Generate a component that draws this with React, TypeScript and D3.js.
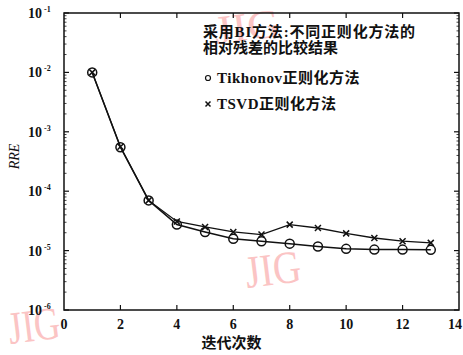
import React, { useEffect, useRef } from "react";
import * as d3 from "d3";

const iterations = [1, 2, 3, 4, 5, 6, 7, 8, 9, 10, 11, 12, 13];
const tikhonovRRE = [
  1.0e-2, 5.5e-4, 7.0e-5, 2.74e-5, 2.06e-5, 1.58e-5, 1.44e-5, 1.31e-5, 1.17e-5, 1.07e-5, 1.04e-5, 1.04e-5, 1.03e-5,
];
const tsvdRRE = [
  1.0e-2, 5.6e-4, 7.0e-5, 3.1e-5, 2.5e-5, 2.06e-5, 1.86e-5, 2.74e-5, 2.4e-5, 1.95e-5, 1.63e-5, 1.44e-5, 1.35e-5,
];
const xTicks = [0, 2, 4, 6, 8, 10, 12, 14];
const yExponents = [-1, -2, -3, -4, -5, -6];
const legendTitle = ["采用BI方法:不同正则化方法的", "相对残差的比较结果"];
const seriesNames = ["Tikhonov正则化方法", "TSVD正则化方法"];
const watermark = "JIG";

const W = 463;
const H = 355;
const m = { left: 64, right: 459, top: 13, bottom: 310 };
const serif = "'Liberation Serif', 'DejaVu Serif', serif";
const cjk = "'Liberation Serif', 'Noto Sans CJK SC', serif";

const Chart = () => {
  const ref = useRef<SVGGElement>(null);

  useEffect(() => {
    const g = d3.select(ref.current);
    g.selectAll("*").remove();

    const x = d3.scaleLinear().domain([0, 14]).range([m.left, m.right]);
    const y = d3.scaleLog().domain([1e-6, 1e-1]).range([m.bottom, m.top]);

    // journal watermark, behind everything
    [
      [216, 44, 66, 40],
      [247, 288, 56, 46],
      [10, 344, 52, 46],
    ].forEach(([wx, wy, len, fs]) => {
      g.append("text")
        .attr("transform", `translate(${wx},${wy}) rotate(-7)`)
        .attr("textLength", len)
        .attr("lengthAdjust", "spacingAndGlyphs")
        .style("font-family", serif)
        .style("font-size", `${fs}px`)
        .style("fill", "#fbc4c4")
        .text(watermark);
    });

    // frame
    g.append("rect")
      .attr("x", m.left)
      .attr("y", m.top)
      .attr("width", m.right - m.left)
      .attr("height", m.bottom - m.top)
      .attr("fill", "none")
      .attr("stroke", "#111")
      .attr("stroke-width", 1.5);

    // x ticks, bottom and top, inward
    xTicks.slice(1, -1).forEach(t => {
      g.append("line").attr("x1", x(t)).attr("x2", x(t)).attr("y1", m.bottom).attr("y2", m.bottom - 5)
        .attr("stroke", "#111").attr("stroke-width", 1.2);
      g.append("line").attr("x1", x(t)).attr("x2", x(t)).attr("y1", m.top).attr("y2", m.top + 5)
        .attr("stroke", "#111").attr("stroke-width", 1.2);
    });
    g.selectAll("text.xt")
      .data(xTicks)
      .enter()
      .append("text")
      .attr("class", "xt")
      .attr("x", (d, i) => (i === xTicks.length - 1 ? W - 1 : x(d)))
      .attr("y", m.bottom + 19)
      .attr("text-anchor", (d, i) => (i === xTicks.length - 1 ? "end" : "middle"))
      .style("font-family", serif)
      .style("font-size", "14px")
      .style("font-weight", "bold")
      .style("fill", "#111")
      .text(d => d);

    // y ticks: majors and log minors on both sides
    const minors: number[] = [];
    for (let e = -6; e < -1; e++) {
      for (let k = 2; k <= 9; k++) minors.push(k * Math.pow(10, e));
    }
    minors.forEach(v => {
      g.append("line").attr("x1", m.left).attr("x2", m.left + 2.5).attr("y1", y(v)).attr("y2", y(v))
        .attr("stroke", "#111").attr("stroke-width", 0.8);
      g.append("line").attr("x1", m.right).attr("x2", m.right - 2.5).attr("y1", y(v)).attr("y2", y(v))
        .attr("stroke", "#111").attr("stroke-width", 0.8);
    });
    yExponents.forEach(e => {
      const v = Math.pow(10, e);
      g.append("line").attr("x1", m.left).attr("x2", m.left + 5).attr("y1", y(v)).attr("y2", y(v))
        .attr("stroke", "#111").attr("stroke-width", 1.2);
      g.append("line").attr("x1", m.right).attr("x2", m.right - 5).attr("y1", y(v)).attr("y2", y(v))
        .attr("stroke", "#111").attr("stroke-width", 1.2);
      const t = g.append("text")
        .attr("x", 28)
        .attr("y", y(v) + 5)
        .style("font-family", serif)
        .style("font-size", "14px")
        .style("font-weight", "bold")
        .style("fill", "#111");
      t.append("tspan").text("10");
      t.append("tspan").attr("dx", 2).attr("dy", -6).style("font-size", "8px").text(String(e));
    });

    // axis titles
    g.append("text")
      .attr("transform", `translate(19, ${(m.top + m.bottom) / 2 - 5}) rotate(-90)`)
      .attr("text-anchor", "middle")
      .style("font-family", serif)
      .style("font-style", "italic")
      .style("font-size", "14px")
      .style("fill", "#111")
      .text("RRE");
    g.append("text")
      .attr("x", (m.left + m.right) / 2 - 30)
      .attr("y", 348)
      .attr("text-anchor", "middle")
      .style("font-family", cjk)
      .style("font-size", "15px")
      .style("font-weight", "bold")
      .style("fill", "#111")
      .text("迭代次数");

    // lines
    const line = d3.line<[number, number]>()
      .x(d => x(d[0]))
      .y(d => y(d[1]));
    const tsvdPts = iterations.map((it, i) => [it, tsvdRRE[i]] as [number, number]);
    const tikPts = iterations.map((it, i) => [it, tikhonovRRE[i]] as [number, number]);

    g.append("path").attr("d", line(tsvdPts)).attr("fill", "none").attr("stroke", "#111").attr("stroke-width", 1.3);
    g.append("path").attr("d", line(tikPts)).attr("fill", "none").attr("stroke", "#111").attr("stroke-width", 1.5);

    const cross = (sel: any, cx: number, cy: number, s: number) => {
      sel.append("path")
        .attr("d", `M${cx - s},${cy - s}L${cx + s},${cy + s}M${cx - s},${cy + s}L${cx + s},${cy - s}`)
        .attr("stroke", "#111")
        .attr("stroke-width", 1.5);
    };
    tsvdPts.forEach(p => cross(g, x(p[0]), y(p[1]), 3));
    g.selectAll("circle.tk")
      .data(tikPts)
      .enter()
      .append("circle")
      .attr("class", "tk")
      .attr("cx", d => x(d[0]))
      .attr("cy", d => y(d[1]))
      .attr("r", 4.5)
      .attr("fill", "none")
      .attr("stroke", "#111")
      .attr("stroke-width", 1.5);

    // legend
    legendTitle.forEach((s, i) => {
      g.append("text")
        .attr("x", 203)
        .attr("y", 37 + i * 16)
        .style("font-family", cjk)
        .style("font-size", "15px")
        .style("font-weight", "bold")
        .style("letter-spacing", i === 0 ? "0.8px" : "0px")
        .style("fill", "#111")
        .text(s);
    });
    const ly = [78, 104];
    g.append("circle").attr("cx", 208).attr("cy", ly[0]).attr("r", 2.5)
      .attr("fill", "none").attr("stroke", "#111").attr("stroke-width", 1.2);
    cross(g, 208, ly[1], 2.5);
    seriesNames.forEach((s, i) => {
      g.append("text")
        .attr("x", 217)
        .attr("y", ly[i] + 5)
        .style("font-family", cjk)
        .style("font-size", "15px")
        .style("font-weight", "bold")
        .style("letter-spacing", "0.5px")
        .style("fill", "#111")
        .text(s);
    });
  }, []);

  return (
    <svg width={W} height={H} style={{ position: "absolute", left: 0, top: 0, background: "white" }}>
      <g ref={ref} />
    </svg>
  );
};

export default function App() {
  return <Chart />;
}
